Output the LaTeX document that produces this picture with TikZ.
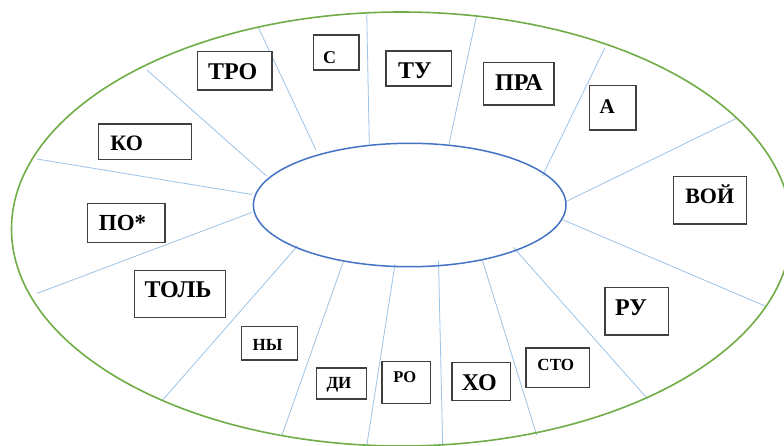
\documentclass[tikz,border=0pt]{standalone}
\usepackage{fontspec}
\setmainfont{Liberation Serif}
\definecolor{outergreen}{HTML}{70AD47}
\definecolor{innerblue}{HTML}{4472C4}
\definecolor{spokeblue}{HTML}{9DC3E6}
\definecolor{boxgray}{HTML}{3F3F3F}
\tikzset{
  spoke/.style={draw=spokeblue, line width=0.8pt},
  outerring/.style={draw=outergreen, line width=1.6pt},
  innerring/.style={draw=innerblue, line width=1.5pt},
  wbox/.style={draw=boxgray, line width=1.1pt, fill=white, inner sep=0pt, rectangle},
  wtext/.style={inner sep=0pt, anchor=base, text=black}
}
% #1 name, #2 x1, #3 y1, #4 x2, #5 y2, #6 font size, #7 text x, #8 baseline y, #9 text
\newcommand\wordbox[9]{%
  \node[wbox, minimum width={#4pt-#2pt}, minimum height={#5pt-#3pt}] (#1) at ({(#2+#4)/2},{(#3+#5)/2}) {};
  \node[wtext, font=\fontsize{#6}{#6}\selectfont\bfseries] (#1t) at (#7,#8) {#9};
}
\begin{document}
\begin{tikzpicture}[x=1pt,y=-1pt]
\useasboundingbox (0,0) rectangle (784,445);
\fill[white] (0,0) rectangle (784,445);
\begin{scope}
\clip (0,0) rectangle (784,445);
% spokes: outer end o, inner end i
\coordinate (o1) at (37,159);    \coordinate (i1) at (252,194.5);
\coordinate (o2) at (147,70);    \coordinate (i2) at (266.5,176);
\coordinate (o3) at (258.3,27.3);\coordinate (i3) at (316,150);
\coordinate (o4) at (366.7,12.3);\coordinate (i4) at (369.3,144);
\coordinate (o5) at (476.7,15);  \coordinate (i5) at (449,144);
\coordinate (o6) at (605,47.7);  \coordinate (i6) at (542.3,176);
\coordinate (o7) at (736.7,118.3);\coordinate (i7) at (565.7,201.7);
\coordinate (o8) at (766.7,306.7);\coordinate (i8) at (563.3,220);
\coordinate (o9) at (647.7,399); \coordinate (i9) at (513.3,247.3);
\coordinate (o10) at (536.7,435);\coordinate (i10) at (482.3,260);
\coordinate (o11) at (442.7,446);\coordinate (i11) at (438.5,261);
\coordinate (o12) at (366.7,446);\coordinate (i12) at (395,264.3);
\coordinate (o13) at (282,435);  \coordinate (i13) at (343.3,261.7);
\coordinate (o14) at (162.3,400.5);\coordinate (i14) at (297.7,245.7);
\coordinate (o15) at (37.3,293.3);\coordinate (i15) at (252,212.3);
\foreach \k in {1,...,15} { \draw[spoke] (o\k) -- (i\k); }
\draw[outerring] (401.5,229) ellipse [x radius=390pt, y radius=217pt];
\draw[innerring] (409.7,205) ellipse [x radius=156.3pt, y radius=61.7pt];
\end{scope}
\wordbox{tro}{197.7}{51.7}{272}{90}{24}{232.7}{79}{ТРО}
\wordbox{s}{313.3}{35}{359}{70}{18}{329.5}{63.3}{С}
\wordbox{ko}{98.3}{124}{191.7}{159.3}{22}{126.7}{150}{КО}
\wordbox{po}{87.7}{203.3}{165}{242.3}{23}{122.5}{230}{ПО*}
\wordbox{tu}{386}{51}{451.7}{86}{24}{415}{78}{ТУ}
\wordbox{pra}{483.7}{62.3}{554}{105}{24}{519}{90.7}{ПРА}
\wordbox{a}{589.3}{85.7}{636}{130}{21}{607.3}{113}{А}
\wordbox{voj}{673.3}{176.7}{746.7}{224}{22}{709.7}{203}{ВОЙ}
\wordbox{tol}{134.3}{270.7}{225.3}{317.3}{24}{178}{297}{ТОЛЬ}
\wordbox{ny}{241.5}{326.5}{297.7}{360}{17}{267.7}{350.7}{НЫ}
\wordbox{di}{316.7}{368}{366.5}{399}{17}{339}{388}{ДИ}
\wordbox{ro}{382}{361.7}{430.3}{403.3}{16.5}{404.7}{382.7}{РО}
\wordbox{xo}{452}{362.7}{510.3}{400.5}{24}{479.3}{390}{ХО}
\wordbox{sto}{526}{348}{589.3}{387.5}{17}{555.8}{370}{СТО}
\wordbox{ru}{605}{287.3}{668.7}{335}{24}{631}{315}{РУ}
\end{tikzpicture}
\end{document}
